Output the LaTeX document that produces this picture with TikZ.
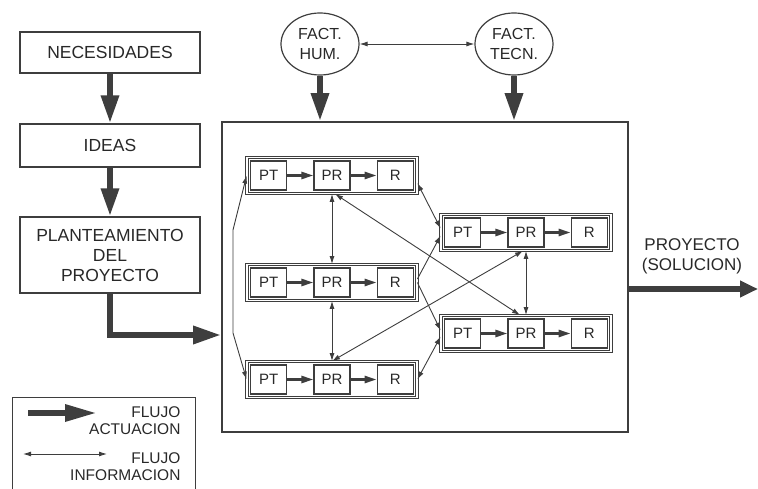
\documentclass[tikz,border=0pt]{standalone}
\usepackage{fontspec}
\setmainfont{Liberation Sans}
\usetikzlibrary{arrows.meta,positioning,shapes.geometric}
\definecolor{lineColor}{RGB}{62,62,62}
\definecolor{textColor}{RGB}{40,40,40}
\newcommand{\boxfont}{\fontsize{17.5}{20}\selectfont}
\newcommand{\cellfont}{\fontsize{15}{17}\selectfont}
\newcommand{\factfont}{\fontsize{16}{20.5}\selectfont}
\newcommand{\legfont}{\fontsize{15.5}{17}\selectfont}
\newcommand{\outfont}{\fontsize{17}{20}\selectfont}

\begin{document}
\begin{tikzpicture}[x=1pt, y=-1pt,
        stage/.style={draw=lineColor, line width=1.3pt, minimum width=180pt, align=center, font=\boxfont, text=textColor},
        fact/.style={draw=lineColor, ellipse, line width=1.2pt, minimum width=78pt, minimum height=62pt, inner sep=0pt, align=center, font=\factfont, text=textColor},
        sysbox/.style={draw=lineColor, line width=1.6pt, minimum width=406pt, minimum height=310pt},
        grp/.style={draw=lineColor, double, double distance=1.6pt, line width=0.8pt, minimum width=170pt, minimum height=36pt},
        cell/.style={draw=lineColor, line width=1.2pt, minimum width=36pt, minimum height=29pt, inner sep=0pt, font=\cellfont, text=textColor},
        act/.style={-{Triangle[length=28pt,width=17pt]}, line width=6pt, lineColor},
        flow/.style={-{Triangle[length=12pt,width=7pt]}, line width=2.5pt, lineColor},
        info/.style={{Latex[length=8pt,width=5pt]}-{Latex[length=8pt,width=5pt]}, line width=0.9pt, lineColor},
        infoone/.style={-{Latex[length=8pt,width=5pt]}, line width=0.9pt, lineColor},
        node distance=26pt
      ]
      \useasboundingbox (0,0) rectangle (758,489);

      % left column
      \node[stage, minimum height=41pt] (nec) at (110,52.5) {NECESIDADES};
      \node[stage, minimum height=43pt] (ideas) at (110,145.5) {IDEAS};
      \node[stage, minimum height=76pt] (plan) at (110,255) {PLANTEAMIENTO\\ DEL\\ PROYECTO};

      % factors and system
      \node[fact] (hum) at (320,44) {FACT.\\ HUM.};
      \node[fact] (tec) at (514,44) {FACT.\\ TECN.};
      \node[sysbox] (sys) at (425,277) {};

      % sub-projects
      \foreach \g/\x/\y in {1/332/175.5, 2/332/282.5, 3/332/379.5, 4/526/232.5, 5/526/333.5} {
        \node[grp] (g\g) at (\x,\y) {};
        \node[cell] (pr\g) at (g\g) {PR};
        \node[cell, left=of pr\g] (pt\g) {PT};
        \node[cell, right=of pr\g] (r\g) {R};
        \draw[flow] (pt\g) -- (pr\g);
        \draw[flow] (pr\g) -- (r\g);
      }

      \coordinate (elbow) at (110,335);
      \coordinate (outend) at (758,289);
      \coordinate (lt) at (233,230);
      \coordinate (lb) at (233,333);

      \draw[act] (nec) -- (ideas);
      \draw[act] (ideas) -- (plan);
      \draw[act] (plan) -- (elbow) -- (elbow -| sys.west);
      \draw[act] (hum) -- (hum |- sys.north);
      \draw[act] (tec) -- (tec |- sys.north);
      \draw[act, -{Triangle[length=18pt,width=16pt]}] (sys.east |- outend) -- (outend);
      \node[font=\outfont, text=textColor, align=center] (out) at (692,256) {PROYECTO\\ (SOLUCION)};

      \draw[info] (hum) -- (tec);
      \draw[info] (g1) -- (g2);
      \draw[info] (g2) -- (g3);
      \draw[info] (g4) -- (g5);
      \draw[info] (g1.west) -- (lt) -- (lb) -- (g3.west);
      \draw[info] ([yshift=-7.5pt]g1.east) -- ([yshift=4pt]g4.west);
      \draw[infoone] ([yshift=3.5pt]g2.east) -- ([yshift=-3pt]g4.west);
      \draw[infoone] (g2.east) -- ([yshift=3pt]g5.west);
      \draw[info] (g3.east) -- ([yshift=-3pt]g5.west);
      \draw[info] ([xshift=3pt]g1.south) -- ([xshift=-6pt]g5.north);
      \draw[info] (g3.north) -- ([xshift=-3pt]g4.south);

      % legend
      \node[draw=lineColor, line width=1.3pt, anchor=north west, minimum width=183pt, minimum height=110pt] (legend) at (12,397) {};
      \coordinate (la1) at (28,413);
      \coordinate (la2) at (97,413);
      \coordinate (li1) at (23,454);
      \coordinate (li2) at (107,454);
      \draw[act, -{Triangle[length=32pt,width=16pt]}] (la1) -- (la2);
      \draw[info] (li1) -- (li2);
      \node[font=\legfont, text=textColor, align=right, anchor=east] (lacts) at (184,421) {FLUJO\\ ACTUACION};
      \node[font=\legfont, text=textColor, align=right, anchor=east] (linfo) at (184,466.5) {FLUJO\\ INFORMACION};
    \end{tikzpicture}
\end{document}
